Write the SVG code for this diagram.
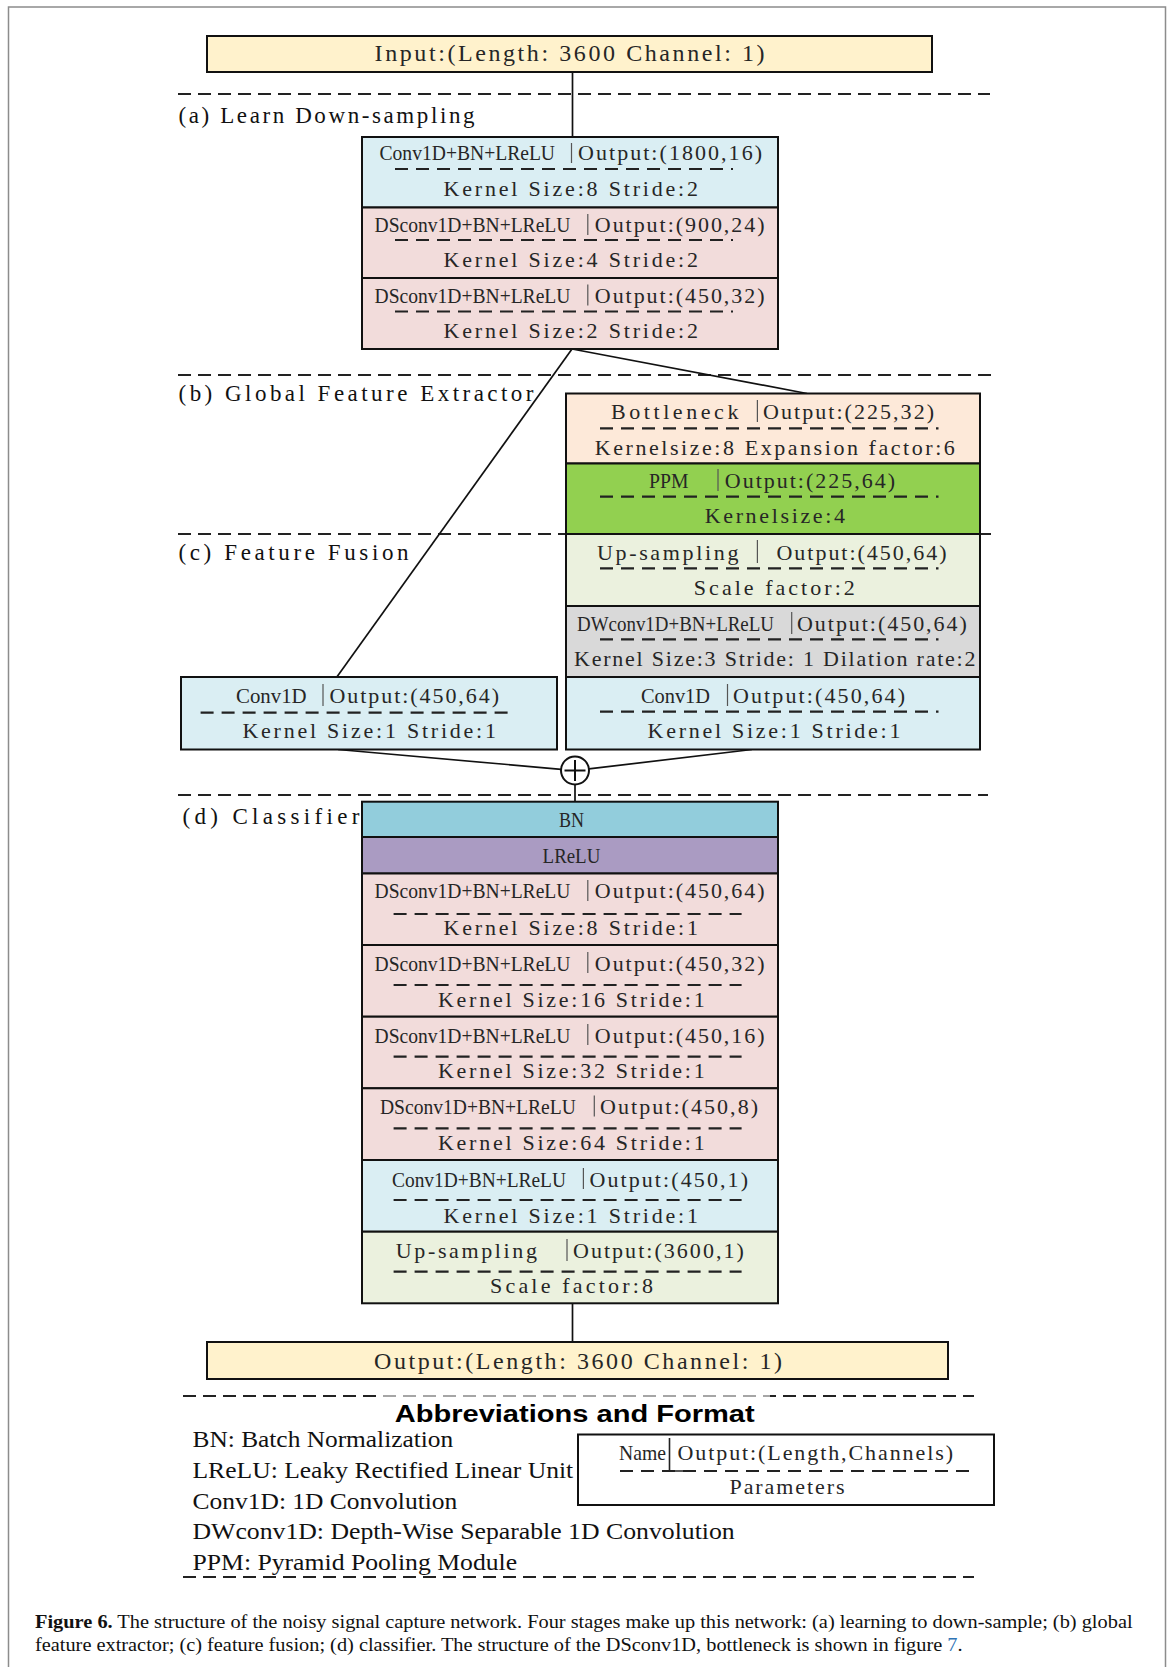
<svg xmlns="http://www.w3.org/2000/svg" width="1173" height="1667" viewBox="0 0 1173 1667">
<style>
.bg{fill:#fff}
.frame{fill:none;stroke:#8c8c8c;stroke-width:1.5}
.box{stroke:#111;stroke-width:2}
.t{font-family:"Liberation Serif","Times New Roman",serif;font-size:22px;fill:#262626}
.io{font-size:24px}
.sl{font-family:"Liberation Serif","Times New Roman",serif;font-size:23px;fill:#111}
.dl{fill:none;stroke:#222;stroke-width:2.2;stroke-dasharray:13 8}
.sec{fill:none;stroke:#222;stroke-width:2;stroke-dasharray:13 7}
.bar{stroke:#555;stroke-width:1.2}
.con{fill:none;stroke:#111;stroke-width:1.7}
.ab{font-family:"Liberation Serif","Times New Roman",serif;font-size:23px;fill:#111}
.ttl{font-family:"Liberation Sans",Arial,sans-serif;font-size:23px;font-weight:bold;fill:#000}
.cap{font-family:"Liberation Serif","Times New Roman",serif;font-size:19px;fill:#111}
.blue{fill:#2f74b5}
.blueL{fill:#DAEEF3}.pink{fill:#F2DCDB}.yel{fill:#FFF2CC}.peach{fill:#FDE9D9}.grn{fill:#92D050}.lg{fill:#EBF1DE}.gry{fill:#D9D9D9}.teal{fill:#92CDDC}.pur{fill:#AA9BC2}
</style>
<rect class="bg" x="0" y="0" width="1173" height="1667"/>
<path id="frame" class="frame" d="M8.5 1667 V7 H1165.5 V1667"/>

<g id="sections">
<line class="sec" x1="178" y1="94" x2="990" y2="94"/>
<line class="sec" x1="178" y1="375" x2="994" y2="375"/>
<line class="sec" x1="178" y1="534" x2="994" y2="534"/>
<line class="sec" x1="178" y1="795" x2="988" y2="795"/>
<line class="sec" x1="183" y1="1396" x2="974" y2="1396"/>
<line class="sec" x1="183" y1="1577" x2="974" y2="1577"/>
<text class="sl" x="178.5" y="122.5" textLength="296" lengthAdjust="spacing">(a) Learn Down-sampling</text>
<text class="sl" x="178.5" y="400.5" textLength="355" lengthAdjust="spacing">(b) Global Feature Extractor</text>
<text class="sl" x="178.5" y="560" textLength="230" lengthAdjust="spacing">(c) Feature Fusion</text>
<text class="sl" x="182.5" y="824" textLength="177" lengthAdjust="spacing">(d) Classifier</text>
</g>

<g id="connectors">
<line class="con" x1="572.5" y1="72" x2="572.5" y2="137"/>
<line class="con" x1="572" y1="349" x2="336.5" y2="677.5"/>
<line class="con" x1="572" y1="349" x2="807" y2="393.5"/>
<line class="con" x1="338" y1="749.5" x2="561.1" y2="769.3"/>
<line class="con" x1="752" y1="749.5" x2="588.9" y2="768.9"/>
<line class="con" x1="575" y1="784.5" x2="575" y2="801.7"/>
<line class="con" x1="572.5" y1="1303.3" x2="572.5" y2="1342"/>
</g>

<g id="input">
<rect class="box yel" x="207" y="36" width="725" height="36"/>
<text class="t io" x="374.6" y="60.5" textLength="390" lengthAdjust="spacing">Input:(Length: 3600 Channel: 1)</text>
</g>

<g id="a1">
<rect class="box blueL" x="362" y="137" width="416" height="70.5"/>
<text class="t" x="379.5" y="160" textLength="175.5" lengthAdjust="spacingAndGlyphs">Conv1D+BN+LReLU</text>
<line class="bar" x1="571.5" y1="143" x2="571.5" y2="163"/>
<text class="t" x="578" y="160" textLength="184" lengthAdjust="spacing">Output:(1800,16)</text>
<line class="dl" x1="395" y1="169" x2="733" y2="169"/>
<text class="t" x="443.6" y="196" textLength="254.4" lengthAdjust="spacing">Kernel Size:8 Stride:2</text>
</g>
<g id="a2">
<rect class="box pink" x="362" y="207.5" width="416" height="70.5"/>
<text class="t" x="374.6" y="232" textLength="195.8" lengthAdjust="spacingAndGlyphs">DSconv1D+BN+LReLU</text>
<line class="bar" x1="587.8" y1="214" x2="587.8" y2="235"/>
<text class="t" x="594.8" y="232" textLength="169.7" lengthAdjust="spacing">Output:(900,24)</text>
<line class="dl" x1="395" y1="240" x2="733" y2="240"/>
<text class="t" x="443.6" y="267" textLength="254.4" lengthAdjust="spacing">Kernel Size:4 Stride:2</text>
</g>
<g id="a3">
<rect class="box pink" x="362" y="278" width="416" height="71"/>
<text class="t" x="374.6" y="302.7" textLength="195.8" lengthAdjust="spacingAndGlyphs">DSconv1D+BN+LReLU</text>
<line class="bar" x1="587.8" y1="284.5" x2="587.8" y2="305.5"/>
<text class="t" x="594.8" y="302.7" textLength="169.7" lengthAdjust="spacing">Output:(450,32)</text>
<line class="dl" x1="395" y1="311.5" x2="733" y2="311.5"/>
<text class="t" x="443.6" y="338.3" textLength="254.4" lengthAdjust="spacing">Kernel Size:2 Stride:2</text>
</g>

<g id="b1">
<rect class="box peach" x="566" y="393.5" width="414" height="70"/>
<text class="t" x="611" y="419.3" textLength="127.4" lengthAdjust="spacing">Bottleneck</text>
<line class="bar" x1="757.4" y1="400" x2="757.4" y2="422"/>
<text class="t" x="763" y="419.3" textLength="171" lengthAdjust="spacing">Output:(225,32)</text>
<line class="dl" x1="600" y1="428.3" x2="938.5" y2="428.3"/>
<text class="t" x="594.8" y="455" textLength="360" lengthAdjust="spacing">Kernelsize:8 Expansion factor:6</text>
</g>
<g id="b2">
<rect class="box grn" x="566" y="463.5" width="414" height="70.5"/>
<text class="t" x="649" y="488.3" textLength="39.4" lengthAdjust="spacingAndGlyphs">PPM</text>
<line class="bar" x1="718" y1="469" x2="718" y2="491"/>
<text class="t" x="724.8" y="488.3" textLength="170.2" lengthAdjust="spacing">Output:(225,64)</text>
<line class="dl" x1="600" y1="496.7" x2="938.5" y2="496.7"/>
<text class="t" x="704.7" y="523.3" textLength="140.3" lengthAdjust="spacing">Kernelsize:4</text>
</g>
<g id="c1">
<rect class="box lg" x="566" y="534" width="414" height="72"/>
<text class="t" x="597" y="560" textLength="141.4" lengthAdjust="spacing">Up-sampling</text>
<line class="bar" x1="757.4" y1="540" x2="757.4" y2="563"/>
<text class="t" x="776.5" y="560" textLength="170" lengthAdjust="spacing">Output:(450,64)</text>
<line class="dl" x1="600" y1="568.3" x2="938.5" y2="568.3"/>
<text class="t" x="693.8" y="595" textLength="161" lengthAdjust="spacing">Scale factor:2</text>
</g>
<g id="c2">
<rect class="box gry" x="566" y="606" width="414" height="71"/>
<text class="t" x="577" y="630.7" textLength="197" lengthAdjust="spacingAndGlyphs">DWconv1D+BN+LReLU</text>
<line class="bar" x1="791.7" y1="612" x2="791.7" y2="634"/>
<text class="t" x="797" y="630.7" textLength="169.8" lengthAdjust="spacing">Output:(450,64)</text>
<line class="dl" x1="600" y1="639.3" x2="938.5" y2="639.3"/>
<text class="t" x="574" y="666" textLength="401.5" lengthAdjust="spacing">Kernel Size:3 Stride: 1 Dilation rate:2</text>
</g>
<g id="c3">
<rect class="box blueL" x="566" y="677" width="414" height="72.5"/>
<text class="t" x="641" y="702.7" textLength="69" lengthAdjust="spacingAndGlyphs">Conv1D</text>
<line class="bar" x1="727.5" y1="684" x2="727.5" y2="706"/>
<text class="t" x="733" y="702.7" textLength="172" lengthAdjust="spacing">Output:(450,64)</text>
<line class="dl" x1="600" y1="711.7" x2="938.5" y2="711.7"/>
<text class="t" x="647.6" y="738.3" textLength="252.8" lengthAdjust="spacing">Kernel Size:1 Stride:1</text>
</g>
<g id="c4">
<rect class="box blueL" x="181" y="677" width="376" height="72.5"/>
<text class="t" x="236" y="702.7" textLength="70.6" lengthAdjust="spacingAndGlyphs">Conv1D</text>
<line class="bar" x1="323" y1="684" x2="323" y2="706"/>
<text class="t" x="329.5" y="702.7" textLength="169.5" lengthAdjust="spacing">Output:(450,64)</text>
<line class="dl" x1="200.6" y1="712.7" x2="515.4" y2="712.7"/>
<text class="t" x="242.4" y="738.3" textLength="253.6" lengthAdjust="spacing">Kernel Size:1 Stride:1</text>
</g>

<g id="sum">
<circle cx="575" cy="770.5" r="14" fill="#fff" stroke="#111" stroke-width="2"/>
<line x1="575" y1="760" x2="575" y2="781" stroke="#111" stroke-width="2"/>
<line x1="564.5" y1="770.5" x2="585.5" y2="770.5" stroke="#111" stroke-width="2"/>
</g>

<g id="d0">
<rect class="box teal" x="362" y="801.7" width="416" height="35.3"/>
<text class="t" x="559" y="826.7" textLength="25" lengthAdjust="spacingAndGlyphs">BN</text>
</g>
<g id="d1">
<rect class="box pur" x="362" y="837" width="416" height="36.5"/>
<text class="t" x="542.6" y="863.3" textLength="57.7" lengthAdjust="spacingAndGlyphs">LReLU</text>
</g>
<g id="d2">
<rect class="box pink" x="362" y="873.5" width="416" height="71.5"/>
<text class="t" x="374.6" y="898.3" textLength="195.8" lengthAdjust="spacingAndGlyphs">DSconv1D+BN+LReLU</text>
<line class="bar" x1="587.8" y1="880" x2="587.8" y2="901"/>
<text class="t" x="594.8" y="898.3" textLength="169.7" lengthAdjust="spacing">Output:(450,64)</text>
<line class="dl" x1="393.6" y1="914" x2="741.6" y2="914"/>
<text class="t" x="443.6" y="935" textLength="254.4" lengthAdjust="spacing">Kernel Size:8 Stride:1</text>
</g>
<g id="d3">
<rect class="box pink" x="362" y="945" width="416" height="71.7"/>
<text class="t" x="374.6" y="970.7" textLength="195.8" lengthAdjust="spacingAndGlyphs">DSconv1D+BN+LReLU</text>
<line class="bar" x1="587.8" y1="952" x2="587.8" y2="973"/>
<text class="t" x="594.8" y="970.7" textLength="169.7" lengthAdjust="spacing">Output:(450,32)</text>
<line class="dl" x1="393.6" y1="985" x2="741.6" y2="985"/>
<text class="t" x="438" y="1006.7" textLength="266.7" lengthAdjust="spacing">Kernel Size:16 Stride:1</text>
</g>
<g id="d4">
<rect class="box pink" x="362" y="1016.7" width="416" height="71.6"/>
<text class="t" x="374.6" y="1042.7" textLength="195.8" lengthAdjust="spacingAndGlyphs">DSconv1D+BN+LReLU</text>
<line class="bar" x1="587.8" y1="1024" x2="587.8" y2="1045"/>
<text class="t" x="594.8" y="1042.7" textLength="169.7" lengthAdjust="spacing">Output:(450,16)</text>
<line class="dl" x1="393.6" y1="1056.7" x2="741.6" y2="1056.7"/>
<text class="t" x="438" y="1078.3" textLength="266.7" lengthAdjust="spacing">Kernel Size:32 Stride:1</text>
</g>
<g id="d5">
<rect class="box pink" x="362" y="1088.3" width="416" height="71.7"/>
<text class="t" x="380" y="1114" textLength="195.8" lengthAdjust="spacingAndGlyphs">DSconv1D+BN+LReLU</text>
<line class="bar" x1="594.3" y1="1095.5" x2="594.3" y2="1116.5"/>
<text class="t" x="600" y="1114" textLength="158" lengthAdjust="spacing">Output:(450,8)</text>
<line class="dl" x1="393.6" y1="1128.3" x2="741.6" y2="1128.3"/>
<text class="t" x="438" y="1150" textLength="266.7" lengthAdjust="spacing">Kernel Size:64 Stride:1</text>
</g>
<g id="d6">
<rect class="box blueL" x="362" y="1160" width="416" height="71.7"/>
<text class="t" x="392" y="1186.7" textLength="174" lengthAdjust="spacingAndGlyphs">Conv1D+BN+LReLU</text>
<line class="bar" x1="583.4" y1="1168" x2="583.4" y2="1189"/>
<text class="t" x="589.4" y="1186.7" textLength="158.6" lengthAdjust="spacing">Output:(450,1)</text>
<line class="dl" x1="393.6" y1="1200" x2="741.6" y2="1200"/>
<text class="t" x="443.6" y="1222.7" textLength="254.4" lengthAdjust="spacing">Kernel Size:1 Stride:1</text>
</g>
<g id="d7">
<rect class="box lg" x="362" y="1231.7" width="416" height="71.6"/>
<text class="t" x="395.8" y="1258.3" textLength="141.2" lengthAdjust="spacing">Up-sampling</text>
<line class="bar" x1="567" y1="1239" x2="567" y2="1261"/>
<text class="t" x="573" y="1258.3" textLength="170.8" lengthAdjust="spacing">Output:(3600,1)</text>
<line class="dl" x1="393.6" y1="1271.7" x2="741.6" y2="1271.7"/>
<text class="t" x="490" y="1293.3" textLength="163" lengthAdjust="spacing">Scale factor:8</text>
</g>

<g id="output">
<rect class="box yel" x="207" y="1342" width="741" height="37"/>
<text class="t io" x="374" y="1369" textLength="408" lengthAdjust="spacing">Output:(Length: 3600 Channel: 1)</text>
</g>

<g id="abbreviations">
<rect x="378" y="1391" width="392" height="41" fill="#fff" fill-opacity="0.6"/>
<text class="ttl" x="394.7" y="1422.3" textLength="360" lengthAdjust="spacingAndGlyphs">Abbreviations and Format</text>
<text class="ab" x="192.5" y="1447" textLength="260.7" lengthAdjust="spacingAndGlyphs">BN: Batch Normalization</text>
<text class="ab" x="192.5" y="1478.3" textLength="380.7" lengthAdjust="spacingAndGlyphs">LReLU: Leaky Rectified Linear Unit</text>
<text class="ab" x="192.5" y="1509" textLength="264.8" lengthAdjust="spacingAndGlyphs">Conv1D: 1D Convolution</text>
<text class="ab" x="192.5" y="1539.3" textLength="542.2" lengthAdjust="spacingAndGlyphs">DWconv1D: Depth-Wise Separable 1D Convolution</text>
<text class="ab" x="192.5" y="1570" textLength="324.6" lengthAdjust="spacingAndGlyphs">PPM: Pyramid Pooling Module</text>
</g>

<g id="legend">
<rect x="578" y="1434.5" width="416" height="70.5" fill="#fff" stroke="#111" stroke-width="2"/>
<text class="t" x="619" y="1460" textLength="47" lengthAdjust="spacingAndGlyphs">Name</text>
<path d="M669.5 1438 V1471 H683" fill="none" stroke="#222" stroke-width="1.6"/>
<text class="t" x="677.5" y="1460" textLength="275.5" lengthAdjust="spacing">Output:(Length,Channels)</text>
<line class="dl" x1="620" y1="1471" x2="972" y2="1471"/>
<text class="t" x="729.5" y="1494" textLength="115" lengthAdjust="spacing">Parameters</text>
</g>

<g id="caption">
<text class="cap" x="35" y="1627.5" textLength="1097.6" lengthAdjust="spacingAndGlyphs"><tspan font-weight="bold">Figure 6.</tspan> The structure of the noisy signal capture network. Four stages make up this network: (a) learning to down-sample; (b) global</text>
<text class="cap" x="35" y="1650.5" textLength="927.5" lengthAdjust="spacingAndGlyphs">feature extractor; (c) feature fusion; (d) classifier. The structure of the DSconv1D, bottleneck is shown in figure <tspan class="blue">7</tspan>.</text>
</g>
</svg>
